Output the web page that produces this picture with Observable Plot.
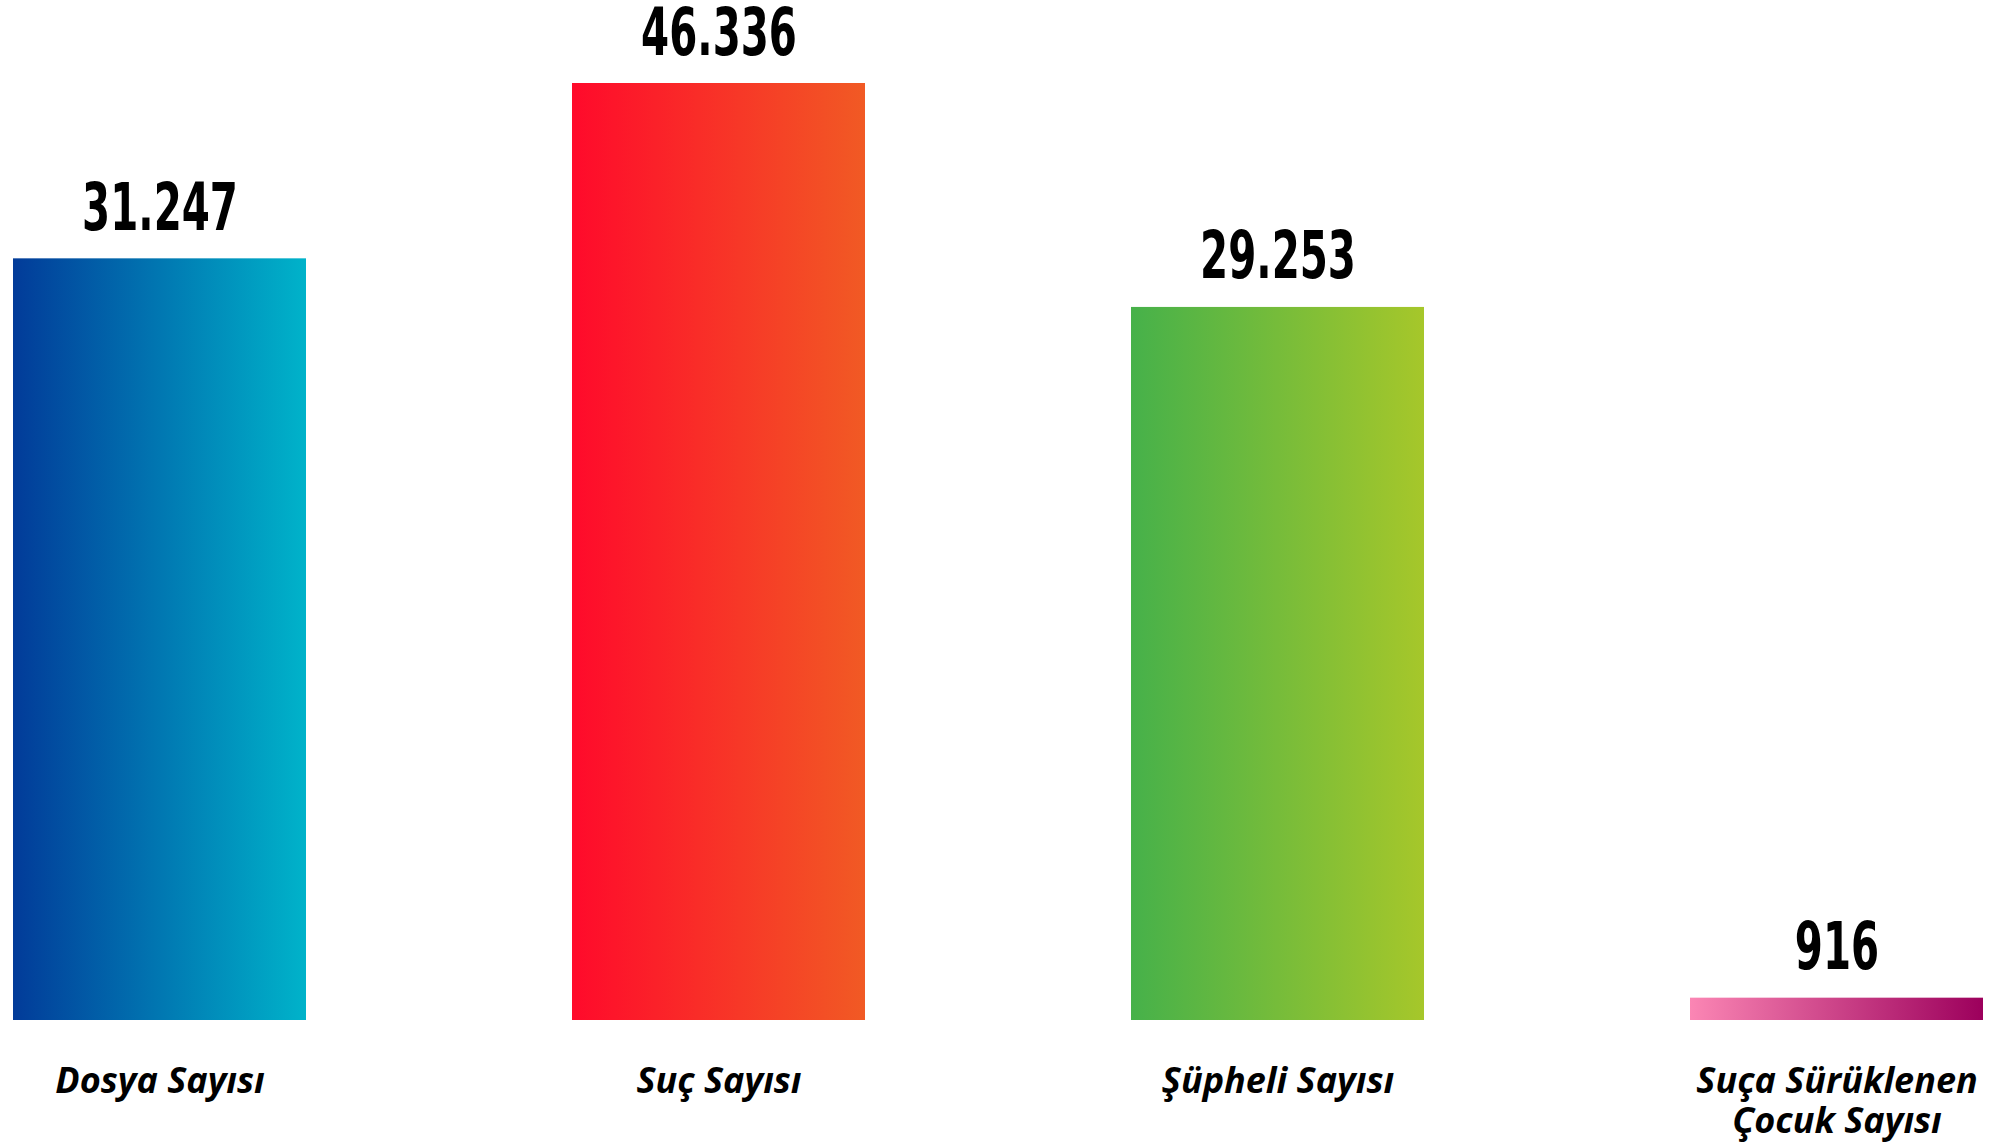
<!DOCTYPE html>
<html>
<head>
<meta charset="utf-8">
<script src="https://cdn.jsdelivr.net/npm/d3@7"></script>
<script src="https://cdn.jsdelivr.net/npm/@observablehq/plot@0.6"></script>
<style>
  html, body { margin: 0; padding: 0; background: #ffffff; }
  #chart svg { display: block; }
</style>
</head>
<body>
<div id="chart"></div>
<script>
// ---- data ----
const categories = ["Dosya Sayısı", "Suç Sayısı", "Şüpheli Sayısı", "Suça Sürüklenen\nÇocuk Sayısı"];
const values = [31247, 46336, 29253, 916];
const gradientStart = ["#023b99", "#ff0a2b", "#46b14a", "#fb86b4"];
const gradientEnd = ["#00b3ca", "#f15a24", "#a6c72a", "#9c005c"];

const data = categories.map((c, i) => ({category: c, value: values[i]}));

const trLocale = d3.formatLocale({decimal: ",", thousands: ".", grouping: [3], currency: ["₺", ""]});
const fmt = trLocale.format(",d");

const numberFont = "'DejaVu Sans Condensed', 'DejaVu Sans', sans-serif";
const labelFont = "'Open Sans', 'Noto Sans', sans-serif";

const chart = Plot.plot({
  width: 1995,
  height: 1144,
  marginTop: 83,
  marginBottom: 124,
  marginLeft: 12,
  marginRight: 12,
  style: {background: "#ffffff", overflow: "visible"},
  x: {domain: categories, paddingInner: 0.476, paddingOuter: 0, label: null},
  y: {domain: [0, 38440], clamp: true, axis: null},
  marks: [
    ...data.map((d, i) => Plot.barY([d], {x: "category", y: "value", fill: `url(#barGrad${i})`})),
    Plot.text(data, {
      x: "category",
      y: "value",
      text: d => fmt(d.value),
      dy: -29,
      lineAnchor: "bottom",
      fontSize: 66,
      fontWeight: 700,
      fontFamily: numberFont,
      fill: "#000000",
      className: "value-label"
    }),
    Plot.axisX({
      tickSize: 0,
      tickPadding: 44,
      fontSize: 36,
      fontWeight: 700,
      fontStyle: "italic",
      fontFamily: labelFont,
      lineHeight: 1.11,
      fill: "#000000",
      label: null
    })
  ]
});

// gradient definitions
const svg = d3.select(chart);
const defs = svg.insert("defs", ":first-child");
categories.forEach((c, i) => {
  const g = defs.append("linearGradient")
    .attr("id", `barGrad${i}`)
    .attr("x1", "0%").attr("y1", "0%")
    .attr("x2", "100%").attr("y2", "0%");
  g.append("stop").attr("offset", "0%").attr("stop-color", gradientStart[i]);
  g.append("stop").attr("offset", "100%").attr("stop-color", gradientEnd[i]);
});

document.getElementById("chart").appendChild(chart);

// condense the value labels horizontally (narrow display face in the original)
svg.selectAll("g.value-label text").each(function () {
  const len = this.getComputedTextLength();
  this.setAttribute("textLength", (len * 0.68).toFixed(1));
  this.setAttribute("lengthAdjust", "spacingAndGlyphs");
});
</script>
</body>
</html>
